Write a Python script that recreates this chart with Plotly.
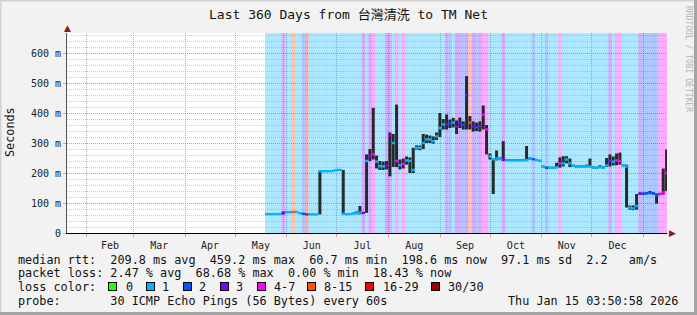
import pandas as pd
import plotly.graph_objects as go

# ---------------- data ----------------
TITLE = "Last 360 Days from 台灣清洗 to TM Net"
END_TIME = "2026-01-15 03:50:58"
SPAN_DAYS = 360
SAMPLE_START = "2025-05-19"
SAMPLE_STEP_DAYS = 2

median_ms = [
    63, 63, 63, 63, 63, 66, 69, 69, 70, 70,
    66, 64, 62, 62, 62, 62, 206, 206, 206, 206,
    207, 210, 210, 64, 62, 63, 65, 66, 68, 67,
    240, 256, 262, 238, 223, 222, 225, 325, 300, 240,
    226, 230, 242, 240, 210, 284, 284, 300, 312, 312,
    306, 322, 350, 362, 362, 365, 368, 355, 365, 360,
    459, 368, 355, 352, 355, 395, 345, 255, 246, 248,
    247, 245, 242, 242, 242, 242, 242, 242, 243, 248,
    246, 243, 240, 220, 217, 217, 217, 219, 232, 232,
    245, 232, 224, 220, 222, 221, 222, 222, 218, 217,
    220, 218, 225, 240, 238, 242, 240, 226, 222, 85,
    82, 90, 131, 131, 132, 133, 132, 125, 130, 135,
    200,
]
smoke_lo_ms = [
    61, 61, 61, 61, 61, 62, 67, 67, 68, 68,
    64, 62, 60, 60, 60, 60, 62, 204, 204, 204,
    205, 207, 207, 62, 60, 61, 62, 63, 62, 65,
    67, 240, 245, 215, 210, 210, 212, 189, 220, 220,
    212, 215, 228, 200, 200, 278, 276, 280, 300, 300,
    298, 310, 320, 345, 345, 350, 352, 330, 350, 345,
    345, 345, 338, 340, 338, 345, 262, 245, 130, 242,
    243, 240, 240, 240, 240, 240, 240, 240, 240, 244,
    243, 240, 237, 217, 215, 215, 215, 216, 218, 222,
    232, 220, 221, 217, 219, 218, 219, 219, 215, 214,
    216, 215, 220, 222, 225, 226, 228, 222, 85, 78,
    76, 78, 128, 128, 129, 130, 128, 98, 126, 128,
    140,
]
smoke_hi_ms = [
    65, 65, 65, 65, 65, 72, 72, 72, 73, 73,
    68, 66, 64, 64, 64, 64, 208, 209, 209, 209,
    210, 213, 213, 210, 65, 66, 68, 72, 90, 70,
    262, 280, 417, 258, 240, 238, 240, 335, 330, 428,
    245, 248, 255, 252, 284, 292, 292, 330, 328, 325,
    322, 335, 400, 380, 395, 378, 384, 375, 385, 372,
    523, 390, 372, 368, 372, 425, 360, 265, 250, 275,
    252, 306, 246, 246, 246, 246, 246, 246, 290, 252,
    250, 247, 244, 225, 221, 221, 221, 234, 252, 256,
    256, 248, 228, 225, 226, 225, 228, 248, 222, 221,
    226, 222, 250, 262, 255, 265, 268, 230, 228, 92,
    92, 130, 135, 135, 136, 140, 136, 132, 134, 215,
    278,
]
lost_pings = [
    1, 1, 1, 1, 1, 3, 1, 1, 8, 1,
    1, 2, 16, 1, 1, 1, 1, 1, 1, 1,
    1, 1, 1, 1, 1, 1, 1, 1, 1, 3,
    1, 3, 4, 1, 1, 1, 3, 3, 1, 4,
    1, 4, 1, 1, 1, 1, 1, 1, 1, 1,
    1, 1, 1, 1, 3, 2, 1, 3, 3, 2,
    3, 8, 3, 2, 3, 4, 4, 1, 1, 1,
    1, 3, 1, 1, 1, 1, 1, 1, 1, 1,
    2, 1, 1, 1, 2, 1, 1, 1, 4, 1,
    1, 1, 1, 1, 1, 1, 1, 1, 1, 1,
    1, 1, 1, 3, 1, 4, 4, 1, 1, 1,
    1, 1, 3, 2, 2, 2, 2, 2, 4, 4,
    4,
]

y_tick_vals = [0, 100, 200, 300, 400, 500, 600]
y_tick_text = ["0", "100 m", "200 m", "300 m", "400 m", "500 m", "600 m"]

loss_labels = ["0", "1", "2", "3", "4-7", "8-15", "16-29", "30/30"]
loss_min = [0, 1, 2, 3, 4, 8, 16, 30]
loss_colors = ["#26ff00", "#00b8ff", "#0059ff", "#7e00ff",
               "#ff00ff", "#ff5500", "#ff0000", "#a10000"]

rtt_avg, rtt_max, rtt_min, rtt_now, rtt_sd, rtt_ams = 209.8, 459.2, 60.7, 198.6, 97.1, 2.2
loss_avg, loss_max, loss_minv, loss_now = 2.47, 68.68, 0.00, 18.43
probe_text = "30 ICMP Echo Pings (56 Bytes) every 60s"
stamp_text = "Thu Jan 15 03:50:58 2026"
y_title = "Seconds"
credit = "RRDTOOL / TOBI OETIKER"

# ---------------- layout helpers ----------------
W, H = 697, 315
ML, MR, MT, MB = 67, 30, 33, 82
PW, PH = W - ML - MR, H - MT - MB
Y_MAX = 666.667
MONO = "DejaVu Sans Mono, Noto Sans CJK TC, monospace"


def px(x):
    return (x - ML) / PW


def py(y):
    return (H - MB - y) / PH


def bucket(n):
    idx = 0
    for i, m in enumerate(loss_min):
        if n >= m:
            idx = i
    return idx


def rgba(hexc, a):
    h = hexc.lstrip("#")
    r, g, b = int(h[0:2], 16), int(h[2:4], 16), int(h[4:6], 16)
    return f"rgba({r},{g},{b},{a})"


end_ts = pd.Timestamp(END_TIME)
start_ts = end_ts - pd.Timedelta(days=SPAN_DAYS)
dates = pd.date_range(SAMPLE_START, periods=len(median_ms), freq=f"{SAMPLE_STEP_DAYS}D")
DAY_MS = 86400000
bin_w = SAMPLE_STEP_DAYS * DAY_MS

med_cols = [loss_colors[bucket(n)] for n in lost_pings]
bg_cols = [rgba(loss_colors[bucket(n)], 0.33) for n in lost_pings]
MED_THICK = 8.0

fig = go.Figure()
# loss background (on hidden 0..1 axis)
fig.add_trace(go.Bar(x=dates, y=[1] * len(dates), base=0, width=bin_w, offset=0,
                     marker=dict(color=bg_cols, line=dict(width=0)),
                     yaxis="y", hoverinfo="skip", showlegend=False))
# smoke
fig.add_trace(go.Bar(x=dates, base=smoke_lo_ms,
                     y=[h - l for h, l in zip(smoke_hi_ms, smoke_lo_ms)],
                     width=1.8 * DAY_MS, offset=0,
                     marker=dict(color="rgba(28,28,28,0.93)", line=dict(width=0)),
                     yaxis="y2", hoverinfo="skip", showlegend=False))
# median (coloured by loss)
fig.add_trace(go.Bar(x=dates, base=[m - MED_THICK / 2 for m in median_ms],
                     y=[MED_THICK] * len(median_ms), width=bin_w, offset=0,
                     marker=dict(color=med_cols, line=dict(width=0)),
                     yaxis="y2", hoverinfo="skip", showlegend=False))

RED_GRID = "rgba(225,120,120,0.75)"
fig.update_layout(
    width=W, height=H,
    margin=dict(l=ML, r=MR, t=MT, b=MB, pad=0),
    paper_bgcolor="#f2f2f2", plot_bgcolor="#ffffff",
    barmode="overlay", showlegend=False,
    font=dict(family=MONO, color="#111"),
    xaxis=dict(type="date", range=[start_ts, end_ts], tick0="2025-01-01", dtick="M1",
               ticklabelmode="period", tickformat="%b",
               showgrid=True, gridcolor=RED_GRID, griddash="1px,1px", gridwidth=1,
               ticks="outside", ticklen=3, tickcolor=RED_GRID,
               showline=True, linecolor="#000", linewidth=1,
               tickfont=dict(family=MONO, size=10, color="#222"), fixedrange=True),
    yaxis=dict(range=[0, 1], visible=False, showgrid=False, fixedrange=True),
    yaxis2=dict(overlaying="y", side="left", range=[0, Y_MAX],
                tickmode="array", tickvals=y_tick_vals, ticktext=y_tick_text,
                showgrid=True, gridcolor=RED_GRID, griddash="1px,1px", gridwidth=1,
                minor=dict(tickmode="linear", tick0=0, dtick=20, showgrid=True,
                           gridcolor="#cfcfcf", griddash="1px,1px", ticks=""),
                zeroline=False, showline=True, linecolor="#555", linewidth=1,
                ticks="outside", ticklen=3, tickcolor=RED_GRID,
                tickfont=dict(family=MONO, size=10, color="#222"), fixedrange=True),
)

ann = []
LEG = 11.8


def txt(x, y, s, size=LEG, xa="left", color="#111", angle=0):
    ann.append(dict(xref="paper", yref="paper", x=px(x), y=py(y), text=s.replace(" ", "\u00a0"),
                    showarrow=False, xanchor=xa, yanchor="middle", textangle=angle,
                    font=dict(family=MONO, size=size, color=color)))


txt(348, 15, TITLE, size=13, xa="center", color="#111")
txt(10, 132, y_title, size=11.8, xa="center", angle=-90)
txt(689, 59, credit, size=8, xa="center", color="#b4b4b4", angle=90)

line1 = (f"median rtt:  {rtt_avg:.1f} ms avg  {rtt_max:.1f} ms max  {rtt_min:.1f} ms min  "
         f"{rtt_now:.1f} ms now  {rtt_sd:.1f} ms sd  {rtt_ams:.1f}   am/s")
line2 = f"packet loss: {loss_avg:.2f} % avg  {loss_max:.2f} % max  {loss_minv:.2f} % min  {loss_now:.2f} % now"
txt(16, 259.5, line1)
txt(16, 273, line2)
txt(16, 287, "loss color:")
txt(16, 301, "probe:       " + probe_text)
txt(680, 301, stamp_text, xa="right")

box_x = [108, 145.5, 182.5, 219.5, 256.5, 306.5, 365, 431]
lab_x = [124, 160, 197, 234, 271.7, 322, 380.5, 445.7]
for bx, lx, lab, col in zip(box_x, lab_x, loss_labels, loss_colors):
    ann.append(dict(xref="paper", yref="paper", x=px(bx), y=py(286.5), text="",
                    showarrow=False, xanchor="left", yanchor="middle",
                    width=7, height=7, bgcolor=col, bordercolor="#000",
                    borderwidth=1, borderpad=0, font=dict(size=6)))
    txt(lx, 287, lab)

# axis arrow heads as text glyphs just outside the plot corners
ann.append(dict(xref="paper", yref="paper", x=px(67), y=py(33), text="▲",
                showarrow=False, xanchor="center", yanchor="bottom", yshift=-2,
                font=dict(family="DejaVu Sans", size=9, color="#8b1a1a")))
ann.append(dict(xref="paper", yref="paper", x=px(667), y=py(233), text="▶",
                showarrow=False, xanchor="left", yanchor="middle", xshift=0,
                font=dict(family="DejaVu Sans", size=9, color="#8b1a1a")))

fig.update_layout(annotations=ann)

shapes = [
    dict(type="rect", xref="paper", yref="paper", x0=px(0), x1=px(W), y0=py(0), y1=py(1.5),
         fillcolor="#d2d2d2", line=dict(width=0), layer="below"),
    dict(type="rect", xref="paper", yref="paper", x0=px(0), x1=px(1.5), y0=py(0), y1=py(H),
         fillcolor="#d2d2d2", line=dict(width=0), layer="below"),
    dict(type="rect", xref="paper", yref="paper", x0=px(W - 3), x1=px(W), y0=py(0), y1=py(H),
         fillcolor="#a4a4a4", line=dict(width=0), layer="below"),
    dict(type="rect", xref="paper", yref="paper", x0=px(0), x1=px(W), y0=py(H - 3), y1=py(H),
         fillcolor="#a4a4a4", line=dict(width=0), layer="below"),
]
fig.update_layout(shapes=shapes)

fig.write_html("out.html")
